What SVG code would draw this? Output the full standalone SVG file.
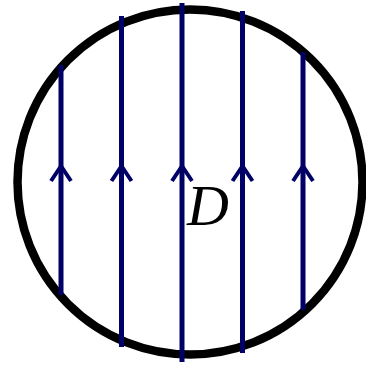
<svg xmlns="http://www.w3.org/2000/svg" width="366" height="368" viewBox="0 0 366 368">
  <style>
    .boundary { fill: none; stroke: #000000; stroke-width: 8.5; }
    .flow { fill: none; stroke: #000066; stroke-width: 5; marker-mid: url(#chev); }
    .label { font-family: "Liberation Serif", "Times New Roman", serif; font-style: italic; font-size: 58px; fill: #000000; }
  </style>
  <defs>
    <marker id="chev" markerUnits="userSpaceOnUse" markerWidth="40" markerHeight="40" viewBox="-20 -20 40 40" refX="0" refY="0" orient="auto" overflow="visible">
      <path d="M-15,-10 L0,0 L-15,10" fill="none" stroke="#000066" stroke-width="4" stroke-linejoin="miter"/>
    </marker>
  </defs>
  <g id="domain">
    <circle class="boundary" cx="190" cy="182" r="172.5"/>
  </g>
  <g id="connectors">
    <polyline class="flow" points="61,295 61,166 61,65"/>
    <polyline class="flow" points="121.5,347 121.5,166 121.5,16"/>
    <polyline class="flow" points="182,362 182,166 182,3"/>
    <polyline class="flow" points="242.5,353 242.5,166 242.5,11"/>
    <polyline class="flow" points="303,310 303,166 303,52"/>
  </g>
  <g id="label-D">
    <text class="label" x="187" y="225">D</text>
  </g>
</svg>
